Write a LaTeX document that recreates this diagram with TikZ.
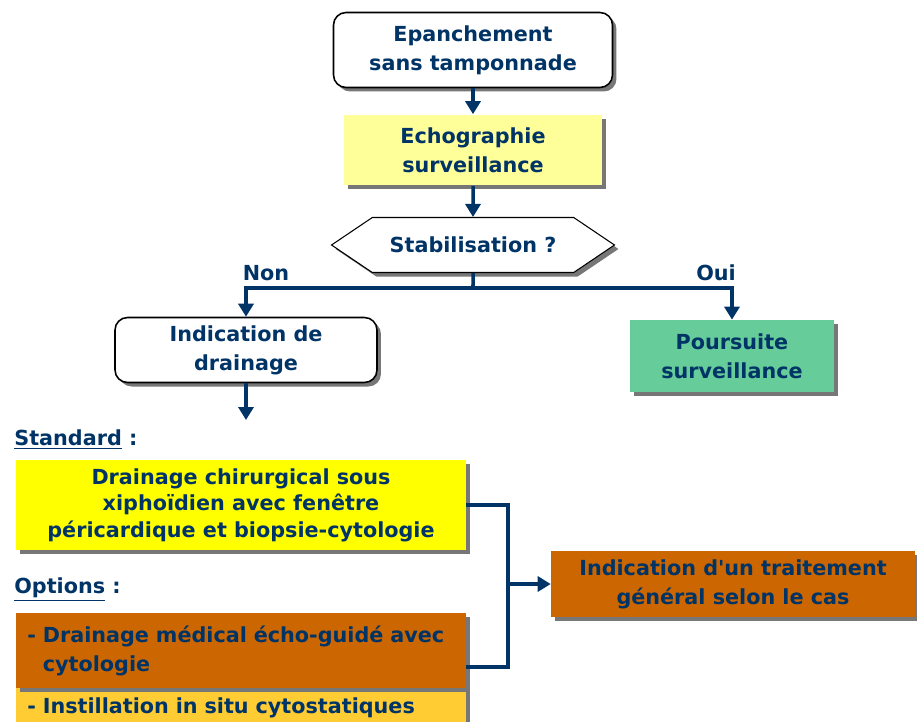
\documentclass[tikz,border=0pt]{standalone}
\usepackage{fontspec}
\setmainfont{DejaVu Sans}
\usetikzlibrary{arrows.meta,shapes.symbols,shadows}

\definecolor{azul}{HTML}{003366}
\definecolor{amarillopal}{HTML}{FFFF99}
\definecolor{verde}{HTML}{66CC99}
\definecolor{amarillo}{HTML}{FFFF00}
\definecolor{naranja}{HTML}{CC6600}
\definecolor{naranjapal}{HTML}{FFCC33}
\definecolor{sombra}{HTML}{777777}

\tikzset{
    texto/.style={font=\bfseries\fontsize{11.8}{16.5}\selectfont, text=azul},
    sombreado/.style={drop shadow={shadow xshift=0.08cm, shadow yshift=-0.08cm, fill=sombra, opacity=1}},
    caja/.style={texto, align=center, sombreado, inner sep=0pt},
    redonda/.style={caja, draw=black, line width=0.9pt, fill=white, rounded corners=0.25cm},
    flecha/.style={draw=azul, line width=2pt, -{Triangle[width=0.3cm, length=0.26cm]}},
    linea/.style={draw=azul, line width=2pt},
}

\begin{document}
\begin{tikzpicture}[x=0.02cm, y=-0.02cm]
        \useasboundingbox (0,0) rectangle (917,721);

        % Define los nodos del tronco principal.
        \node[redonda, minimum width=5.58cm, minimum height=1.5cm] (epan) at (473,50) {Epanchement\\sans tamponnade};
        \node[caja, fill=amarillopal, minimum width=5.18cm, minimum height=1.42cm] (echo) at (473,150) {Echographie\\surveillance};
        \node[caja, shape=signal, signal to=west and east, signal pointer angle=68,
            draw=black, line width=0.6pt, fill=white, minimum width=5.66cm, minimum height=1.1cm] (stab) at (473,245) {Stabilisation ?};

        % Define las dos ramas.
        \node[redonda, minimum width=5.24cm, minimum height=1.3cm] (drain) at (246,350) {Indication de\\drainage};
        \node[caja, fill=verde, minimum width=4.08cm, minimum height=1.44cm] (pours) at (732,356) {Poursuite\\surveillance};
        \node[texto, anchor=south] (non) at (266,287) {Non};
        \node[texto, anchor=south] (oui) at (716,287) {Oui};

        % Define las cajas de tratamiento.
        \node[texto, anchor=west, inner sep=0pt] (lstd) at (14,440) {\underline{Standard}~:};
        \node[caja, fill=amarillo, minimum width=9cm, minimum height=1.8cm, font=\bfseries\fontsize{11.8}{15}\selectfont] (std) at (241,505)
            {Drainage chirurgical sous\\xiphoïdien avec fenêtre\\péricardique et biopsie-cytologie};
        \node[texto, anchor=west, inner sep=0pt] (lopt) at (14,590) {\underline{Options}~:};
        \node[caja, fill=naranjapal, anchor=north west, minimum width=9cm, minimum height=1.2cm, align=left,
            text width=8.56cm, inner xsep=0.22cm, inner ysep=0pt, text depth=0.5cm] (opt2) at (16,688)
            {- Instillation in situ cytostatiques};
        \node[caja, fill=naranja, anchor=north west, minimum width=9cm, minimum height=1.5cm, align=left,
            text width=8.56cm, inner xsep=0.22cm] (opt1) at (16,613)
            {- Drainage médical écho-guidé avec\\\phantom{- }cytologie};
        \node[caja, fill=naranja, minimum width=7.28cm, minimum height=1.32cm] (trt) at (733,584)
            {Indication d\textquotesingle un traitement\\général selon le cas};

        % Puntos auxiliares de los conectores.
        \coordinate (bif) at (473,288);
        \coordinate (fin) at (246,420);
        \coordinate (jn) at (508,584);
        \coordinate (opts) at (466,667);

        % Conecta los nodos.
        \draw[flecha] (epan) -- (echo);
        \draw[flecha] (echo) -- (stab);
        \draw[linea] (stab) -- (bif);
        \draw[flecha] (bif) -| (drain);
        \draw[flecha] (bif) -| (pours);
        \draw[flecha] (drain) -- (fin);
        \draw[linea] (std.east) -| (jn) |- (opts);
        \draw[flecha] (jn) -- (trt);
    \end{tikzpicture}
\end{document}
